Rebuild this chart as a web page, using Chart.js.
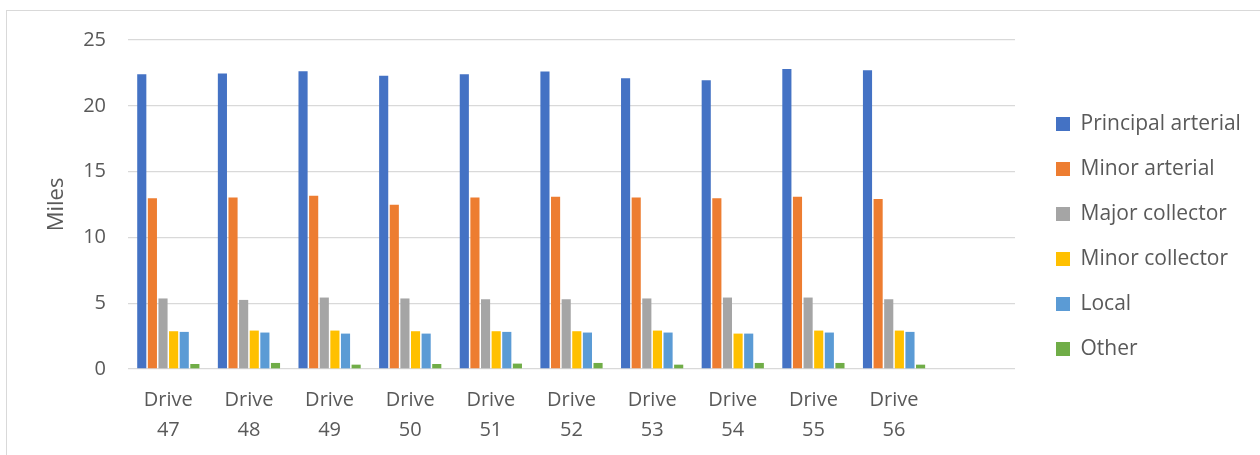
<!DOCTYPE html>
<html lang="en">
<head>
  <meta charset="UTF-8">
  <title>Miles by functional class</title>
  <script src="https://cdn.jsdelivr.net/npm/chart.js"></script>
  <style>
    body {
      margin: 0;
      background: #fff;
      overflow: hidden;
    }
    #frame {
      position: absolute;
      left: 6px;
      top: 10px;
      width: 1300px;
      height: 500px;
      border: 1px solid #d9d9d9;
    }
    #chart {
      position: absolute;
      left: 0;
      top: 0;
    }
  </style>
</head>
<body>
  <div id="frame"></div>
  <canvas id="chart" width="1260" height="455"></canvas>

  <script>
    // last slot is left empty on purpose (blank category at the right end)
    const categories = ['Drive 47', 'Drive 48', 'Drive 49', 'Drive 50', 'Drive 51',
                        'Drive 52', 'Drive 53', 'Drive 54', 'Drive 55', 'Drive 56', ''];

    const principalArterial = [22.40, 22.45, 22.63, 22.28, 22.40, 22.60, 22.10, 21.95, 22.80, 22.71];
    const minorArterial     = [12.97, 13.04, 13.17, 12.48, 13.04, 13.09, 13.04, 12.97, 13.09, 12.91];
    const majorCollector    = [5.36, 5.25, 5.43, 5.36, 5.30, 5.30, 5.36, 5.43, 5.43, 5.30];
    const minorCollector    = [2.87, 2.92, 2.92, 2.87, 2.87, 2.87, 2.92, 2.69, 2.92, 2.92];
    const local             = [2.82, 2.77, 2.69, 2.69, 2.82, 2.77, 2.77, 2.69, 2.77, 2.82];
    const other             = [0.38, 0.46, 0.33, 0.38, 0.41, 0.46, 0.33, 0.46, 0.46, 0.33];

    const yTicks = [0, 5, 10, 15, 20, 25];

    const TEXT = '#595959';
    const GRID = '#d9d9d9';
    const FONT = "'Open Sans', sans-serif";

    const series = [
      { label: 'Principal arterial', data: principalArterial, color: '#4472C4' },
      { label: 'Minor arterial',     data: minorArterial,     color: '#ED7D31' },
      { label: 'Major collector',    data: majorCollector,    color: '#A5A5A5' },
      { label: 'Minor collector',    data: minorCollector,    color: '#FFC000' },
      { label: 'Local',              data: local,             color: '#5B9BD5' },
      { label: 'Other',              data: other,             color: '#70AD47' }
    ];

    // move the legend block a little left and up after layout
    const legendNudge = {
      id: 'legendNudge',
      afterLayout(chart, args, opts) {
        const l = chart.legend;
        if (!l) return;
        l.left += opts.dx; l.right += opts.dx;
        l.top += opts.dy; l.bottom += opts.dy;
      }
    };

    const ctx = document.getElementById('chart').getContext('2d');
    new Chart(ctx, {
      type: 'bar',
      data: {
        labels: categories.map(c => c ? c.split(' ') : ''),
        datasets: series.map(s => ({
          label: s.label,
          data: s.data,
          backgroundColor: s.color,
          borderWidth: 0,
          barPercentage: 0.86,
          categoryPercentage: 0.79
        }))
      },
      plugins: [legendNudge],
      options: {
        responsive: false,
        animation: false,
        devicePixelRatio: 1,
        layout: { padding: { top: 40, bottom: 0, left: 0, right: 0 } },
        plugins: {
          tooltip: { enabled: false },
          legendNudge: { dx: -18, dy: -11 },
          legend: {
            position: 'right',
            labels: {
              color: TEXT,
              font: { family: FONT, size: 21 },
              boxWidth: 14,
              boxHeight: 14,
              padding: 24
            }
          }
        },
        scales: {
          x: {
            grid: { display: false, drawTicks: false },
            border: { display: false },
            ticks: {
              color: TEXT,
              font: { family: FONT, size: 20, lineHeight: 1.5 },
              padding: 16,
              maxRotation: 0,
              autoSkip: false
            },
            afterFit(scale) { scale.height = 86; }
          },
          y: {
            min: 0,
            max: 25,
            afterBuildTicks(scale) { scale.ticks = yTicks.map(v => ({ value: v })); },
            grid: { color: GRID, lineWidth: 1.3, drawTicks: false },
            border: { display: false },
            ticks: {
              color: TEXT,
              font: { family: FONT, size: 20 },
              padding: 22
            },
            title: {
              display: true,
              text: 'Miles',
              color: TEXT,
              font: { family: FONT, size: 22 },
              padding: { top: 44, bottom: 0 }
            },
            afterFit(scale) { scale.width = 128; }
          },
          // empty spacer between the plot and the legend
          gap: {
            position: 'right',
            display: true,
            grid: { display: false, drawTicks: false },
            border: { display: false },
            ticks: { display: false },
            afterFit(scale) { scale.width = 35; }
          }
        }
      }
    });
  </script>
</body>
</html>
